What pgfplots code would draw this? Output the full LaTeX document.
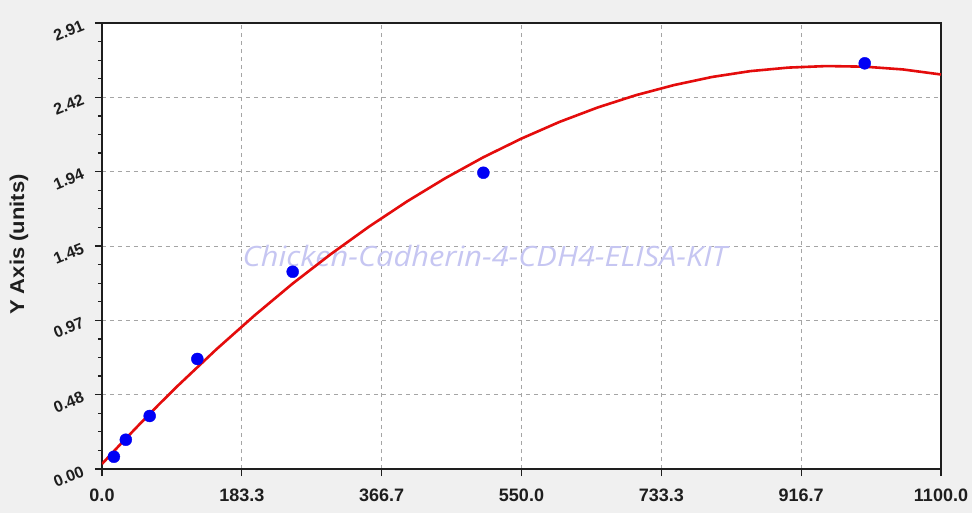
\documentclass[border=0pt]{standalone}
\usepackage{fontspec}
\setmainfont{Liberation Sans}
\newfontfamily\wmfont{Open Sans}
\usepackage{pgfplots}
\pgfplotsset{compat=1.18}
\definecolor{bg}{RGB}{240,240,240}
\definecolor{wm}{RGB}{198,198,242}
\definecolor{gridc}{RGB}{165,165,165}
\definecolor{curve}{RGB}{228,12,12}
\definecolor{pts}{RGB}{0,0,245}
\definecolor{axc}{RGB}{30,30,30}
\begin{document}
\begin{tikzpicture}
\fill[bg] (-102bp,-44bp) rectangle (870bp,469bp);
\begin{axis}[
 at={(0,0)}, anchor=south west,
 width=839bp, height=446bp, scale only axis,
 xmin=0, xmax=1100, ymin=0, ymax=2.91,
 axis background/.style={fill=white},
 axis line style={line width=1.6bp, axc},
 xtick={0,183.333,366.667,550,733.333,916.667,1100},
 xticklabels={0.0,183.3,366.7,550.0,733.3,916.7,1100.0},
 ytick={0,0.485,0.97,1.455,1.94,2.425,2.91},
 yticklabels={0.00,0.48,0.97,1.45,1.94,2.42,2.91},
 minor tick num=3,
 tick pos=left, tick align=outside,
 major tick length=7bp, minor tick length=4bp,
 every tick/.style={axc, line width=1.2bp},
 grid=major,
 major grid style={gridc, line width=0.9bp, dash pattern=on 4bp off 4bp},
 xticklabel style={font=\fontsize{18bp}{20bp}\selectfont\bfseries, text=axc, yshift=-9bp},
 yticklabel style={font=\fontsize{16bp}{18bp}\selectfont\bfseries, xshift=-12bp, yshift=8bp, rotate=22, anchor=north east, text=axc},
 /pgf/number format/assume math mode=true,
 clip=true,
]
\node[font=\wmfont\itshape\fontsize{28bp}{30bp}\selectfont, text=wm] at (axis cs:502,1.39) {\scalebox{1.1}[1]{Chicken-Cadherin-4-CDH4-ELISA-KIT}};
\addplot[curve, line width=2.6bp, mark=none] coordinates {
(0,0.033) (25,0.166) (50,0.296) (75,0.423) (100,0.546) (150,0.781)
(200,1.002) (250,1.21) (300,1.402) (350,1.581) (400,1.746) (450,1.897)
(500,2.034) (550,2.156) (600,2.265) (650,2.359) (700,2.439) (750,2.505)
(800,2.558) (850,2.596) (900,2.619) (950,2.629) (1000,2.625) (1050,2.607) (1100,2.574)
};
\addplot[only marks, mark=*, mark size=6bp, pts, mark options={draw=pts, fill=pts}] coordinates {
(15.6,0.080) (31.25,0.191) (62.5,0.346) (125,0.718) (250,1.287) (500,1.933) (1000,2.647)
};
\end{axis}
\node[rotate=90, font=\fontsize{20bp}{22bp}\selectfont\bfseries, text=axc] at (-83bp,224.5bp) {\scalebox{1.1}[1]{Y Axis (units)}};
\pgfresetboundingbox
\path (-102bp,-44bp) rectangle (870bp,469bp);
\end{tikzpicture}
\end{document}
